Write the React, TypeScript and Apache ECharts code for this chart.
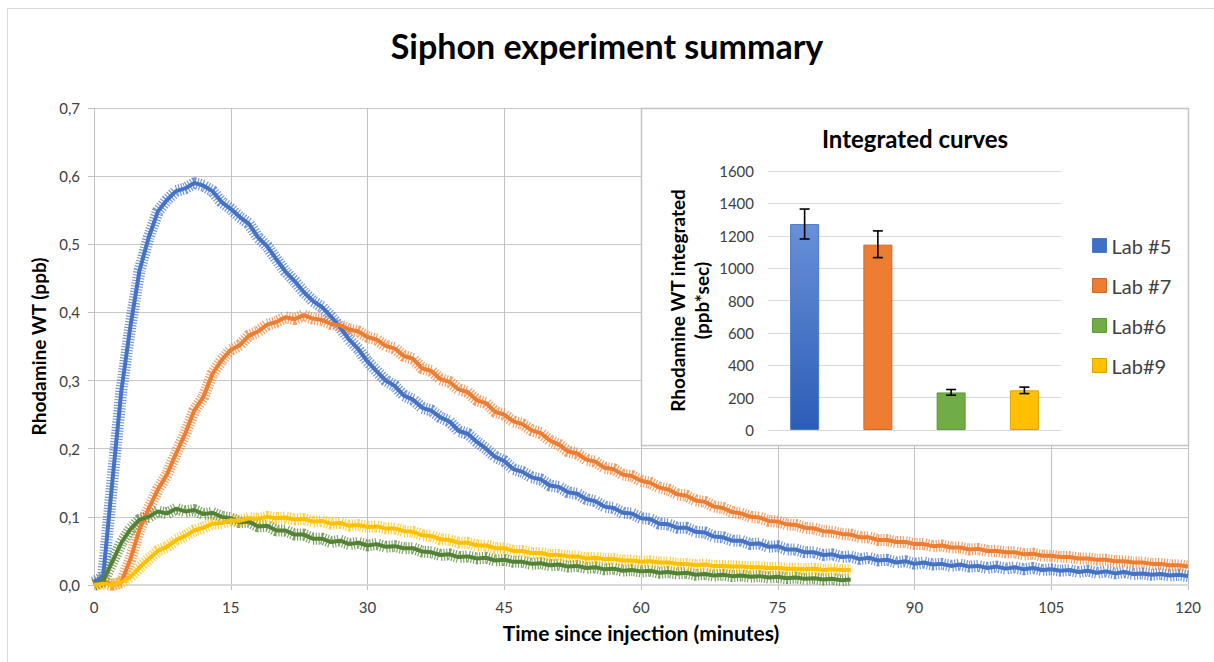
import React, { useEffect, useRef } from "react";
import * as echarts from "echarts";

// Sample times (minutes since injection), one reading per minute
const minutes: number[] = Array.from({ length: 121 }, (_, i) => i);

// Rhodamine WT concentration (ppb) per lab
const lab5: number[] = [
  0.004, 0.012, 0.15, 0.285, 0.38, 0.462, 0.51, 0.548, 0.565, 0.578,
  0.582, 0.59, 0.586, 0.578, 0.562, 0.552, 0.54, 0.53, 0.51, 0.497,
  0.478, 0.46, 0.446, 0.43, 0.417, 0.408, 0.394, 0.378, 0.36, 0.346,
  0.328, 0.314, 0.3, 0.292, 0.278, 0.272, 0.26, 0.256, 0.246, 0.24,
  0.226, 0.222, 0.21, 0.2, 0.188, 0.182, 0.17, 0.166, 0.158, 0.155,
  0.146, 0.144, 0.136, 0.134, 0.126, 0.123, 0.115, 0.113, 0.106, 0.105,
  0.098, 0.097, 0.09, 0.089, 0.084, 0.084, 0.078, 0.077, 0.071, 0.07,
  0.065, 0.065, 0.06, 0.061, 0.056, 0.057, 0.052, 0.052, 0.048, 0.048,
  0.044, 0.045, 0.041, 0.042, 0.038, 0.04, 0.036, 0.037, 0.033, 0.035,
  0.031, 0.033, 0.03, 0.031, 0.028, 0.03, 0.027, 0.028, 0.025, 0.027,
  0.024, 0.026, 0.023, 0.025, 0.022, 0.023, 0.021, 0.022, 0.019, 0.021,
  0.018, 0.02, 0.017, 0.019, 0.016, 0.017, 0.015, 0.016, 0.014, 0.015, 0.013,
];
const lab7: number[] = [
  0.0, 0.006, 0.0, 0.004, 0.038, 0.082, 0.112, 0.14, 0.162, 0.193,
  0.222, 0.256, 0.276, 0.31, 0.33, 0.345, 0.352, 0.366, 0.372, 0.382,
  0.386, 0.393, 0.39, 0.396, 0.391, 0.389, 0.383, 0.381, 0.375, 0.372,
  0.364, 0.36, 0.351, 0.347, 0.336, 0.332, 0.318, 0.314, 0.302, 0.298,
  0.287, 0.283, 0.271, 0.267, 0.254, 0.25, 0.24, 0.236, 0.227, 0.223,
  0.212, 0.206, 0.196, 0.193, 0.184, 0.181, 0.172, 0.17, 0.162, 0.16,
  0.153, 0.15, 0.143, 0.14, 0.133, 0.131, 0.124, 0.122, 0.115, 0.113,
  0.107, 0.105, 0.1, 0.099, 0.094, 0.093, 0.089, 0.088, 0.084, 0.083,
  0.079, 0.078, 0.075, 0.074, 0.07, 0.07, 0.066, 0.066, 0.063, 0.063,
  0.06, 0.06, 0.057, 0.058, 0.055, 0.055, 0.052, 0.053, 0.05, 0.05,
  0.048, 0.048, 0.045, 0.046, 0.043, 0.043, 0.041, 0.041, 0.039, 0.039,
  0.037, 0.037, 0.035, 0.035, 0.033, 0.033, 0.031, 0.031, 0.029, 0.029, 0.027,
];
const lab6: number[] = [
  0.0, 0.006, 0.034, 0.062, 0.082, 0.096, 0.1, 0.108, 0.105, 0.112,
  0.108, 0.11, 0.104, 0.106, 0.1, 0.098, 0.092, 0.093, 0.086, 0.087,
  0.08, 0.08, 0.074, 0.074, 0.068, 0.068, 0.063, 0.065, 0.06, 0.062,
  0.058, 0.06, 0.056, 0.057, 0.054, 0.054, 0.049, 0.048, 0.044, 0.045,
  0.041, 0.042, 0.039, 0.04, 0.036, 0.037, 0.034, 0.034, 0.031, 0.032,
  0.029, 0.03, 0.027, 0.028, 0.025, 0.026, 0.023, 0.024, 0.021, 0.022,
  0.02, 0.021, 0.018, 0.019, 0.017, 0.018, 0.015, 0.016, 0.014, 0.015,
  0.013, 0.014, 0.012, 0.013, 0.011, 0.012, 0.01, 0.011, 0.009, 0.01,
  0.008, 0.009, 0.007, 0.008,
];
const lab9: number[] = [
  0.0, 0.002, 0.0, 0.004, 0.012, 0.026, 0.038, 0.05, 0.056, 0.066,
  0.072, 0.08, 0.084, 0.09, 0.091, 0.095, 0.094, 0.098, 0.097, 0.1,
  0.098, 0.099, 0.096, 0.097, 0.093, 0.094, 0.09, 0.091, 0.087, 0.088,
  0.085, 0.086, 0.083, 0.083, 0.079, 0.078, 0.073, 0.072, 0.067, 0.066,
  0.062, 0.062, 0.058, 0.058, 0.054, 0.054, 0.05, 0.05, 0.047, 0.047,
  0.044, 0.044, 0.042, 0.042, 0.039, 0.04, 0.038, 0.038, 0.036, 0.036,
  0.034, 0.035, 0.033, 0.033, 0.031, 0.031, 0.029, 0.03, 0.028, 0.028,
  0.027, 0.027, 0.026, 0.026, 0.025, 0.025, 0.024, 0.024, 0.023, 0.024,
  0.022, 0.023, 0.022, 0.022,
];

// Integrated curves (ppb*sec) with error range
const labs: string[] = ["Lab #5", "Lab #7", "Lab#6", "Lab#9"];
const integrated: number[] = [1272, 1145, 232, 245];
const errLow: number[] = [1180, 1065, 215, 225];
const errHigh: number[] = [1365, 1230, 250, 265];

const xTicks = { min: 0, max: 120, interval: 15 };
const yTicks = { min: 0, max: 0.7, interval: 0.1 };
const barTicks = { min: 0, max: 1600, interval: 200 };

const lineColors = ["#4472C4", "#ED7D31", "#548235", "#FFC000"];
const lineData = [lab5, lab7, lab6, lab9];

const FONT = "Lato, 'Open Sans', sans-serif";

function pairs(vals: number[]): number[][] {
  return vals.map((v, i) => [minutes[i], v]);
}

export default function App() {
  const ref = useRef<HTMLDivElement>(null);

  useEffect(() => {
    if (!ref.current) return;
    const chart = echarts.init(ref.current, null, { renderer: "svg" });

    const barColors: any[] = [
      new echarts.graphic.LinearGradient(0, 0, 0, 1, [
        { offset: 0, color: "#6890d8" },
        { offset: 1, color: "#2c5db6" },
      ]),
      "#ED7D31",
      "#70AD47",
      "#FFC000",
    ];
    const barBorders = ["#4a78c8", "#c96a28", "#5c9a3a", "#d9a400"];
    const legendColors = ["#3F6FC6", "#ED7D31", "#70AD47", "#FFC000"];

    const lineSeries: any[] = [];
    lineData.forEach((vals, k) => {
      // hatched wide stroke under each trace: the spread of the raw sensor readings
      lineSeries.push({
        type: "line",
        xAxisIndex: 0,
        yAxisIndex: 0,
        data: pairs(vals),
        showSymbol: false,
        silent: true,
        z: 2,
        lineStyle: { width: 12, color: lineColors[k], opacity: 0.75, type: [1.2, 1.6], cap: "butt" },
      });
      lineSeries.push({
        type: "line",
        xAxisIndex: 0,
        yAxisIndex: 0,
        data: pairs(vals),
        showSymbol: false,
        silent: true,
        z: 3,
        lineStyle: { width: 4, color: lineColors[k] },
      });
    });

    const barSeries: any[] = labs.map((name, k) => ({
      name,
      type: "bar",
      xAxisIndex: 1,
      yAxisIndex: 1,
      barWidth: 29,
      barGap: "-100%",
      z: 10,
      itemStyle: { color: barColors[k], borderColor: barBorders[k], borderWidth: 1 },
      data: integrated.map((v, i) => (i === k ? v : "-")),
    }));

    const option: any = {
      animation: false,
      backgroundColor: "#ffffff",
      textStyle: { fontFamily: FONT },
      title: {
        text: "Siphon experiment summary",
        left: "center",
        top: 23,
        textStyle: { fontFamily: FONT, fontSize: 34, fontWeight: "bold", color: "#000000" },
      },
      legend: {
        orient: "vertical",
        left: 1087,
        top: 228,
        z: 12,
        icon: "rect",
        itemWidth: 14,
        itemHeight: 14,
        itemGap: 15,
        selectedMode: false,
        textStyle: { fontFamily: FONT, fontSize: 20, color: "#404040", lineHeight: 25 },
        data: labs.map((name, k) => ({
          name,
          itemStyle: { color: legendColors[k], borderColor: barBorders[k], borderWidth: 1 },
        })),
      },
      graphic: [
        {
          type: "line",
          z: 0,
          shape: { x1: 7.5, y1: 8, x2: 7.5, y2: 662 },
          style: { stroke: "#d9d9d9", lineWidth: 1 },
        },
        {
          type: "line",
          z: 0,
          shape: { x1: 7, y1: 8.5, x2: 1214, y2: 8.5 },
          style: { stroke: "#d9d9d9", lineWidth: 1 },
        },
        {
          type: "rect",
          z: 5,
          shape: { x: 641.5, y: 108.5, width: 547, height: 337 },
          style: { fill: "#ffffff", stroke: "#c4c4c4", lineWidth: 1.5 },
        },
        {
          type: "text",
          z: 12,
          x: 915,
          y: 138,
          style: {
            text: "Integrated curves",
            fontFamily: FONT,
            fontSize: 24,
            fontWeight: "bold",
            fill: "#000000",
            align: "center",
            verticalAlign: "middle",
          },
        },
      ],
      grid: [
        { left: 94, right: 26, top: 108, bottom: 77 },
        { left: 768, right: 153, top: 171, bottom: 232 },
      ],
      xAxis: [
        {
          type: "value",
          gridIndex: 0,
          ...xTicks,
          z: 0,
          name: "Time since injection (minutes)",
          nameLocation: "middle",
          nameGap: 37,
          nameTextStyle: { fontFamily: FONT, fontSize: 21, fontWeight: "bold", color: "#000000" },
          axisLine: { show: true, lineStyle: { color: "#d9d9d9", width: 2 } },
          axisTick: { show: true, length: 5, lineStyle: { color: "#bfbfbf" } },
          axisLabel: { fontFamily: FONT, fontSize: 15, color: "#404040", margin: 14 },
          splitLine: { show: true, lineStyle: { color: "#c2c2c2", width: 1 } },
        },
        {
          type: "category",
          gridIndex: 1,
          data: labs,
          z: 8,
          axisLine: { show: true, lineStyle: { color: "#d9d9d9", width: 1 } },
          axisTick: { show: false },
          axisLabel: { show: false },
          splitLine: { show: false },
        },
      ],
      yAxis: [
        {
          type: "value",
          gridIndex: 0,
          ...yTicks,
          z: 0,
          name: "Rhodamine WT (ppb)",
          nameLocation: "middle",
          nameGap: 45,
          nameTextStyle: { fontFamily: FONT, fontSize: 19, fontWeight: "bold", color: "#000000" },
          axisLine: { show: false },
          axisTick: { show: true, length: 6, lineStyle: { color: "#bfbfbf" } },
          axisLabel: {
            fontFamily: FONT,
            fontSize: 15,
            color: "#404040",
            margin: 14,
            formatter: (v: number) => v.toFixed(1).replace(".", ","),
          },
          splitLine: { show: true, lineStyle: { color: "#c8c8c8", width: 1 } },
        },
        {
          type: "value",
          gridIndex: 1,
          ...barTicks,
          z: 8,
          name: "Rhodamine WT integrated\n(ppb*sec)",
          nameLocation: "middle",
          nameGap: 55,
          nameTextStyle: {
            fontFamily: FONT,
            fontSize: 19,
            fontWeight: "bold",
            color: "#000000",
            lineHeight: 24,
          },
          axisLine: { show: false },
          axisTick: { show: false },
          axisLabel: {
            fontFamily: FONT,
            fontSize: 15,
            color: "#404040",
            margin: 14,
            formatter: (v: number) => String(v),
          },
          splitLine: { show: true, lineStyle: { color: "#d9d9d9", width: 1 } },
        },
      ],
      series: [
        ...lineSeries,
        ...barSeries,
        {
          type: "custom",
          xAxisIndex: 1,
          yAxisIndex: 1,
          z: 11,
          silent: true,
          data: labs.map((_, i) => [i, errLow[i], errHigh[i]]),
          renderItem: (_params: any, api: any) => {
            const i = api.value(0);
            const top = api.coord([i, api.value(2)]);
            const bot = api.coord([i, api.value(1)]);
            const hw = 5;
            const st = { stroke: "#000000", lineWidth: 1.6 };
            return {
              type: "group",
              children: [
                { type: "line", shape: { x1: top[0], y1: top[1], x2: bot[0], y2: bot[1] }, style: st },
                { type: "line", shape: { x1: top[0] - hw, y1: top[1], x2: top[0] + hw, y2: top[1] }, style: st },
                { type: "line", shape: { x1: bot[0] - hw, y1: bot[1], x2: bot[0] + hw, y2: bot[1] }, style: st },
              ],
            };
          },
        },
      ],
    };

    chart.setOption(option);
    return () => chart.dispose();
  }, []);

  return (
    <div
      ref={ref}
      style={{ position: "absolute", left: 0, top: 0, width: 1214, height: 662, background: "#ffffff" }}
    />
  );
}
